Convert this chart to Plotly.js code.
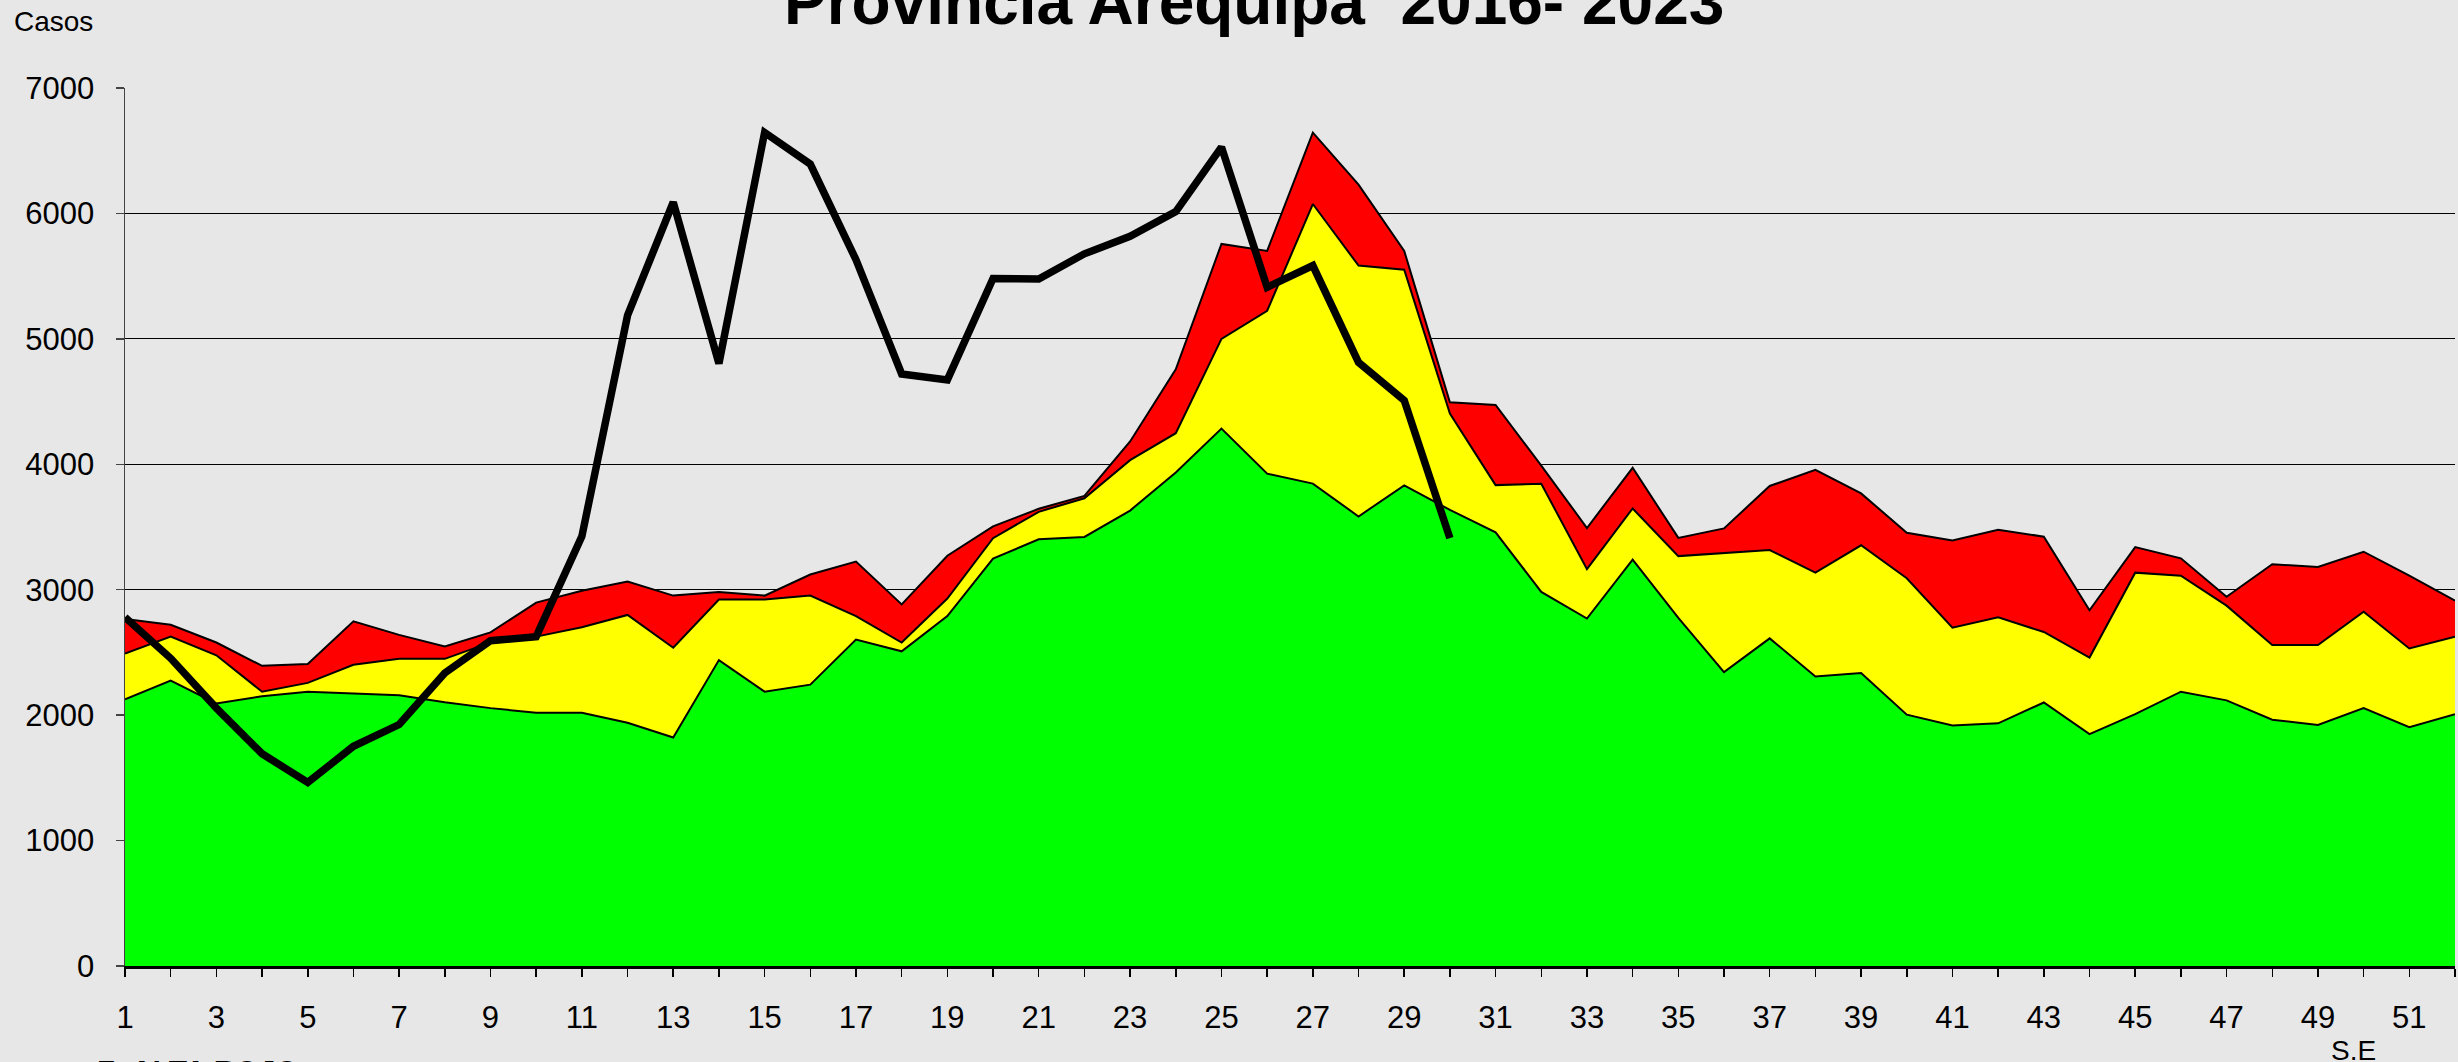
<!DOCTYPE html>
<html>
<head>
<meta charset="utf-8">
<script src="https://cdn.plot.ly/plotly-3.0.1.min.js"></script>
<style>
  html, body { margin: 0; padding: 0; background: #e7e7e7; }
  #chart { width: 2458px; height: 1062px; }
</style>
</head>
<body>
<div id="chart"></div>
<script>
// Semanas epidemiológicas
const semanas = [1,2,3,4,5,6,7,8,9,10,11,12,13,14,15,16,17,18,19,20,21,22,23,24,25,26,
                 27,28,29,30,31,32,33,34,35,36,37,38,39,40,41,42,43,44,45,46,47,48,49,50,51,52];

// Límite superior de la zona de alarma (rojo)
const zonaAlarma = [2766,2720,2579,2393,2407,2748,2640,2547,2660,2897,2991,3065,2953,2981,2953,3121,
                    3224,2883,3271,3505,3645,3748,4182,4757,5757,5701,6645,6229,5701,4495,4473,3990,
                    3492,3972,3413,3489,3827,3955,3768,3454,3392,3478,3423,2836,3340,3250,2943,3203,
                    3182,3303,3113,2913];

// Límite superior de la zona de seguridad (amarillo)
const zonaSeguridad = [2491,2626,2477,2187,2257,2402,2449,2449,2580,2626,2701,2799,2537,2921,2921,2953,
                       2790,2579,2930,3411,3621,3729,4033,4248,5000,5224,6075,5584,5551,4405,3834,3845,
                       3164,3648,3268,3292,3316,3136,3354,3091,2697,2780,2663,2459,3136,3112,2873,2559,
                       2559,2825,2532,2625];

// Límite superior de la zona de éxito (verde)
const zonaExito = [2126,2276,2093,2150,2187,2173,2159,2103,2056,2019,2019,1939,1822,2439,2187,2243,
                   2603,2509,2790,3248,3402,3421,3631,3935,4285,3925,3846,3584,3832,3636,3458,2982,
                   2770,3240,2775,2343,2612,2308,2336,2004,1918,1935,2101,1849,2008,2187,2118,1963,
                   1921,2056,1904,2008];

// Casos 2023 (SE 1-30)
const casos2023 = [2780,2453,2056,1692,1463,1752,1925,2336,2593,2626,3425,5187,6089,4804,6645,6393,
                   5631,4720,4673,5481,5477,5678,5818,6014,6528,5411,5584,4813,4509,3411];

// Etiquetas del eje X (semanas impares)
const etiquetasX = semanas.map(s => (s % 2 === 1 ? String(s) : ''));
const ticksY = [0,1000,2000,3000,4000,5000,6000,7000];

const FONT = 'Liberation Sans, Arial, sans-serif';
const W = 2458, H = 1062;
const M = {l: 125, r: 3, t: 88, b: 96};
const PW = W - M.l - M.r, PH = H - M.t - M.b;
const px = x => (x - M.l) / PW;
const py = y => (H - M.b - y) / PH;

const edge = {color: '#000000', width: 2};
const traces = [
  {x: semanas, y: zonaAlarma, type: 'scatter', mode: 'lines', fill: 'tozeroy',
   fillcolor: '#ff0000', line: edge, name: 'Alarma', hoverinfo: 'skip'},
  {x: semanas, y: zonaSeguridad, type: 'scatter', mode: 'lines', fill: 'tozeroy',
   fillcolor: '#ffff00', line: edge, name: 'Seguridad', hoverinfo: 'skip'},
  {x: semanas, y: zonaExito, type: 'scatter', mode: 'lines', fill: 'tozeroy',
   fillcolor: '#00ff00', line: edge, name: 'Éxito', hoverinfo: 'skip'},
  {x: semanas.slice(0, casos2023.length), y: casos2023, type: 'scatter', mode: 'lines',
   line: {color: '#000000', width: 7.5}, name: '2023'}
];

const layout = {
  width: W, height: H,
  margin: M,
  paper_bgcolor: '#e7e7e7',
  plot_bgcolor: '#e7e7e7',
  showlegend: false,
  font: {family: FONT, color: '#000000', size: 31},
  xaxis: {
    range: [1, 52],
    tickvals: semanas,
    ticktext: etiquetasX,
    ticks: 'outside', ticklen: 8, tickwidth: 1.5, tickcolor: '#000000',
    tickfont: {family: FONT, size: 31, color: '#000000'},
    ticklabelstandoff: 14,
    showgrid: false, zeroline: false,
    showline: true, linecolor: '#000000', linewidth: 3
  },
  yaxis: {
    range: [0, 7000],
    tickvals: ticksY,
    ticks: 'outside', ticklen: 8, tickwidth: 1.5, tickcolor: '#444444',
    tickfont: {family: FONT, size: 31, color: '#000000'},
    ticklabelstandoff: 15,
    showgrid: true, gridcolor: '#000000', gridwidth: 1,
    zeroline: false,
    showline: true, linecolor: '#444444', linewidth: 1.5
  },
  annotations: [
    {text: '<b>Provincia Arequipa  2016- 2023</b>', xref: 'paper', yref: 'paper',
     x: px(1254), y: py(2), xanchor: 'center', yanchor: 'middle', showarrow: false,
     font: {family: FONT, size: 64, color: '#000000'}},
    {text: 'Casos', xref: 'paper', yref: 'paper', x: px(12), y: py(22),
     xanchor: 'left', yanchor: 'middle', showarrow: false,
     font: {family: FONT, size: 28, color: '#000000'}},
    {text: 'S.E', xref: 'paper', yref: 'paper', x: px(2353), y: py(1050),
     xanchor: 'center', yanchor: 'middle', showarrow: false,
     font: {family: FONT, size: 28, color: '#000000'}},
    {text: '<b>Z. ALTA ROJO</b>', xref: 'paper', yref: 'paper', x: px(95), y: py(1070),
     xanchor: 'left', yanchor: 'middle', showarrow: false,
     font: {family: FONT, size: 30, color: '#000000'}}
  ]
};

Plotly.newPlot('chart', traces, layout, {displayModeBar: false, staticPlot: true});
</script>
</body>
</html>
